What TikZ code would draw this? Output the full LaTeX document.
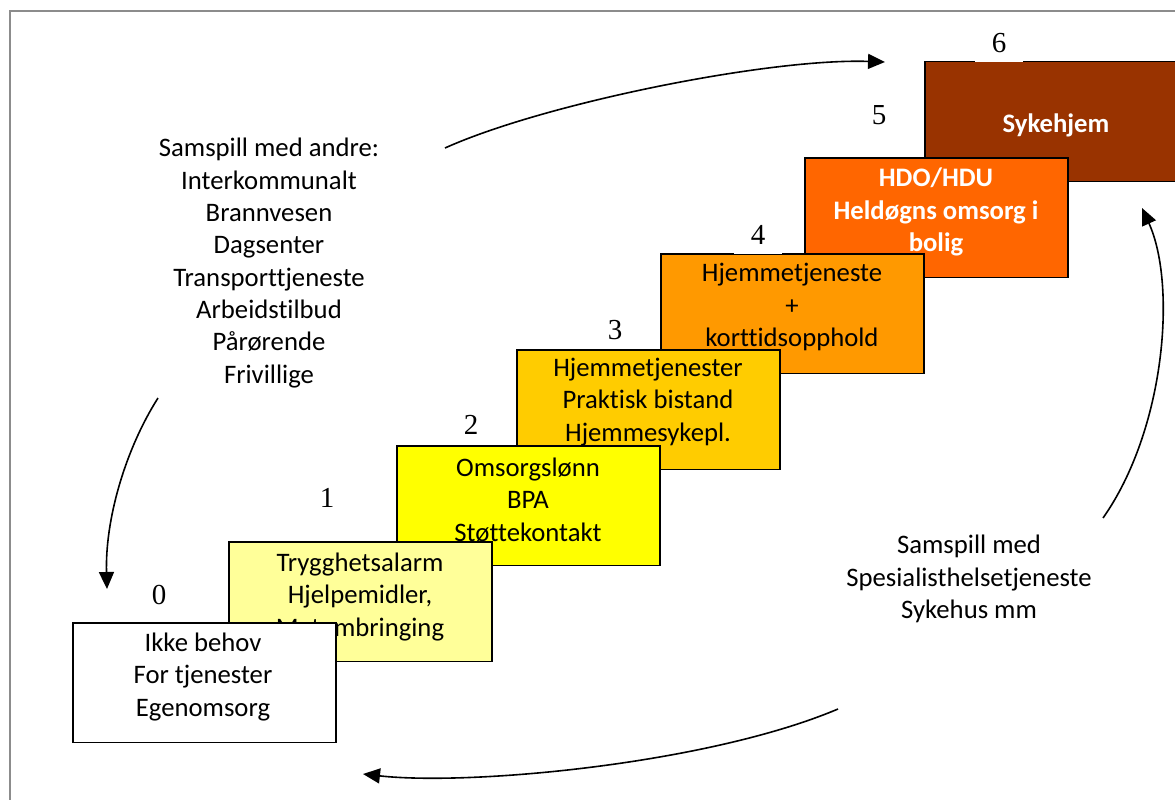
\documentclass[tikz,border=0pt]{standalone}
\usepackage{fontspec}
\setmainfont{Carlito}[Ligatures=NoCommon]
\newfontfamily\numfont{Liberation Serif}
\usepackage{tikz}
\usetikzlibrary{arrows.meta, positioning}

\definecolor{trinnA}{HTML}{FFFF99}
\definecolor{trinnB}{HTML}{FFFF00}
\definecolor{trinnC}{HTML}{FFCC00}
\definecolor{trinnD}{HTML}{FF9900}
\definecolor{trinnE}{HTML}{FF6600}
\definecolor{trinnF}{HTML}{993300}

\begin{document}
\begin{tikzpicture}[x=1pt, y=-1pt,
		stepbox/.style={draw, line width=1.5pt, minimum width=263pt, minimum height=119.5pt, anchor=north west, inner sep=0pt},
		steptext/.style={align=center, font=\fontsize{26.7}{32.3}\selectfont, inner sep=0pt},
		steplabel/.style={font=\numfont\fontsize{29}{34}\selectfont, inner sep=0pt},
		numpatch/.style={fill=white, inner xsep=17pt, inner ysep=9.5pt},
		loopline/.style={line width=1.6pt, -{Triangle[length=17pt,width=15pt]}}]
			\useasboundingbox (0,0) rectangle (1175,800);
			
			% Ramme
			\draw[black!45, line width=2pt] (10,820) rectangle (1195,11);
			
			% Trinn 6 til 0
			\node[stepbox, fill=trinnF] (s6) at (924,61) {};
			\node[steptext, font=\fontsize{26.7}{32.3}\selectfont\bfseries, text=white] (t6) at (1056,125) {Sykehjem};
			\node[stepbox, fill=trinnE] (s5) at (804,157) {};
			\node[steptext, font=\fontsize{26.7}{32.3}\selectfont\bfseries, text=white] (t5) at (936,212) {HDO/HDU\\Heldøgns omsorg i\\bolig};
			\node[stepbox, fill=trinnD] (s4) at (660,253) {};
			\node[steptext] (t4) at (792,307) {Hjemmetjeneste\\+\\korttidsopphold};
			\node[stepbox, fill=trinnC] (s3) at (516,349) {};
			\node[steptext] (t3) at (648,402) {Hjemmetjenester\\Praktisk bistand\\Hjemmesykepl.};
			\node[stepbox, fill=trinnB] (s2) at (396,445) {};
			\node[steptext] (t2) at (528,500) {Omsorgslønn\\BPA\\Støttekontakt};
			\node[stepbox, fill=trinnA] (s1) at (228,541) {};
			\node[steptext] (t1) at (360,597) {Trygghetsalarm\\Hjelpemidler,\\Matombringing};
			\node[stepbox, fill=white] (s0) at (72,622) {};
			\node[steptext] (t0) at (203,677) {Ikke behov\\For tjenester\\Egenomsorg};
			
			% Trinnummer
			\foreach \n/\x/\y in {0/159/595, 1/327/498, 2/471/425, 3/615/330, 5/879/115} {
				\node[steplabel] (n\n) at (\x,\y) {\n};
			}
			\node[steplabel, numpatch] (n4) at (758,235) {4};
			\node[steplabel, numpatch] (n6) at (999,43) {6};
			
			% Samspill
			\node[steptext] (andre) at (269,263) {Samspill med andre:\\Interkommunalt\\Brannvesen\\Dagsenter\\Transporttjeneste\\Arbeidstilbud\\Pårørende\\Frivillige};
			\node[steptext] (spes) at (969,579) {Samspill med\\Spesialisthelsetjeneste\\Sykehus mm};
			
			% Piler
			\coordinate (opp0) at (445,148);
			\coordinate (opp1) at (885,62);
			\coordinate (hoyre0) at (1103,518);
			\coordinate (hoyre1) at (1142,208);
			\coordinate (ned0) at (838,709);
			\coordinate (ned1) at (363,774);
			\coordinate (venstre0) at (158,398);
			\coordinate (venstre1) at (107,589);
			\draw[loopline] (opp0) .. controls (545,103) and (770,58) .. (opp1);
			\draw[loopline] (hoyre0) .. controls (1165,430) and (1177,285) .. (hoyre1);
			\draw[loopline] (ned0) .. controls (708,764) and (470,786) .. (ned1);
			\draw[loopline] (venstre0) .. controls (125,450) and (105,520) .. (venstre1);
		\end{tikzpicture}
\end{document}
